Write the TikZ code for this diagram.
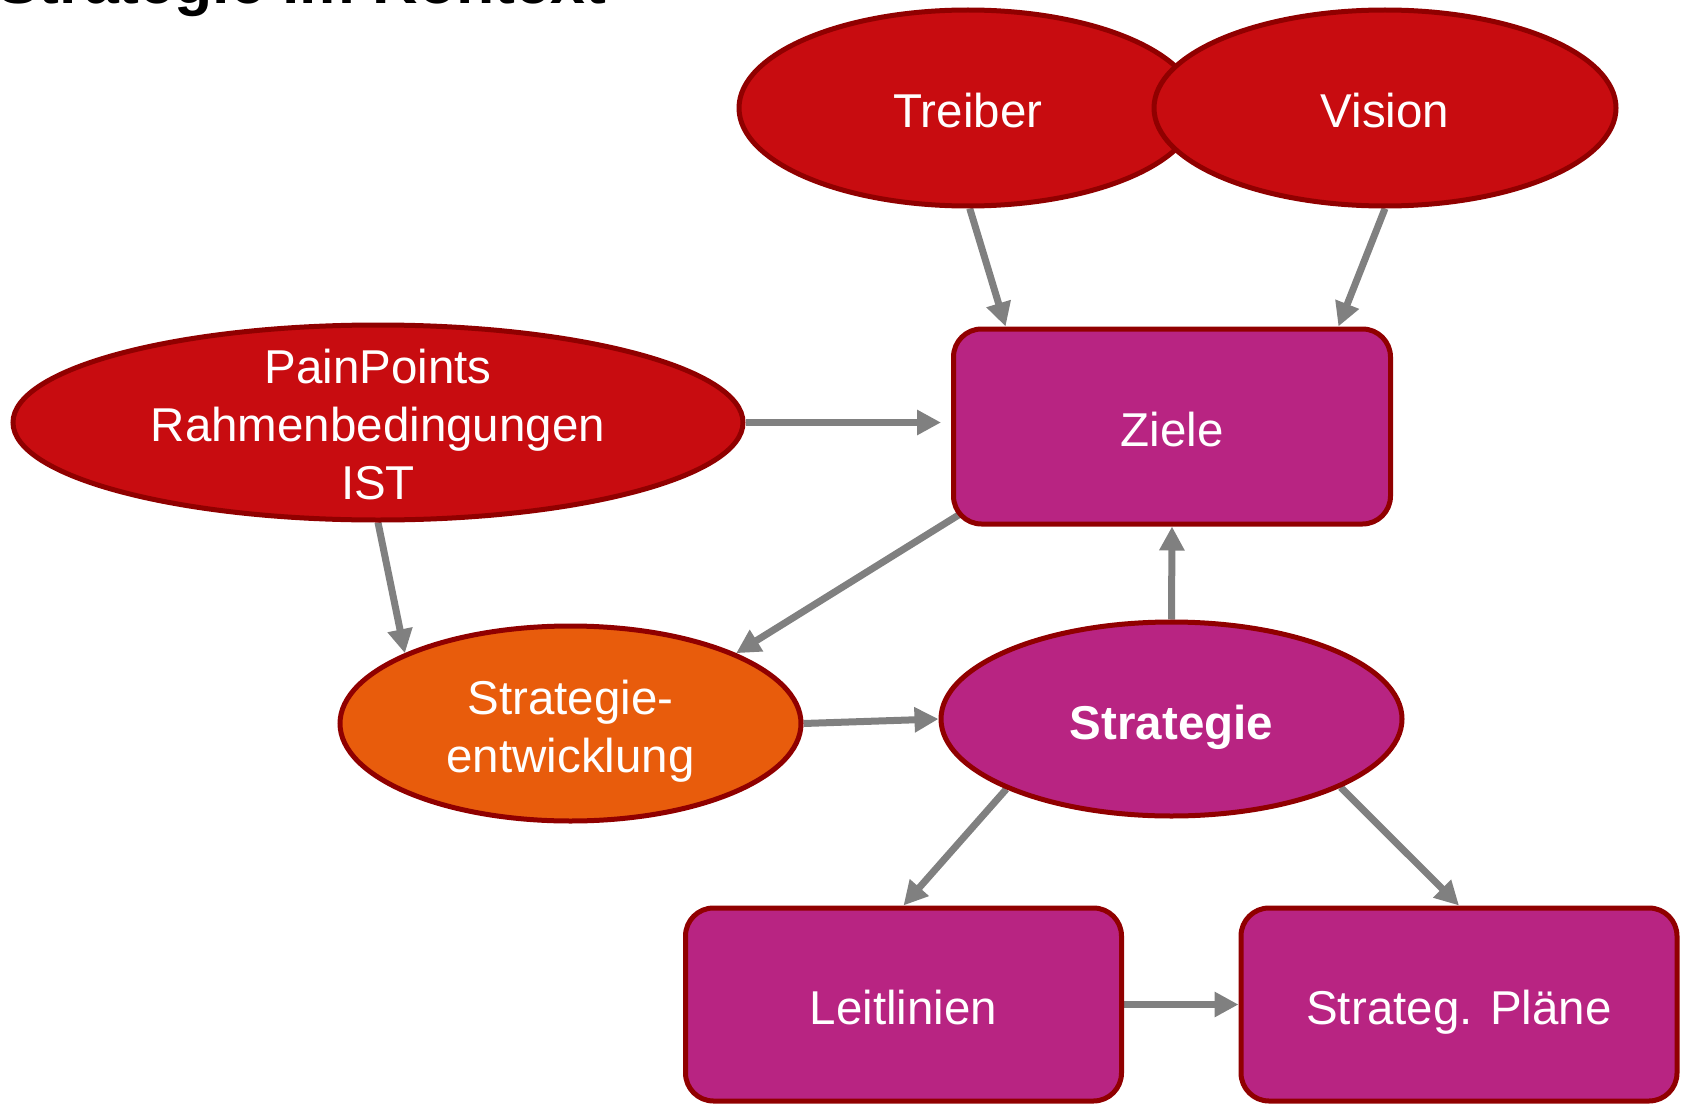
\documentclass[tikz,border=0pt]{standalone}
\usepackage{fontspec}
\setmainfont{Liberation Sans}
\usetikzlibrary{shapes.geometric,arrows.meta,calc,backgrounds}
\definecolor{tred}{RGB}{200,12,16}
\definecolor{tborder}{RGB}{144,0,0}
\definecolor{tmagenta}{RGB}{184,36,130}
\definecolor{torange}{RGB}{232,92,12}
\definecolor{tgray}{RGB}{128,128,128}
% invisible strut that lowers a multi-line label
\newcommand{\lowerby}[1]{\rule{0pt}{\dimexpr 35pt+2\dimexpr #1\relax\relax}}
\begin{document}
\begin{tikzpicture}[x=1pt,y=-1pt,
  base/.style={draw=tborder, line width=5pt, text=white, inner sep=0pt,
    align=center, font=\fontsize{47.5}{58}\selectfont},
  % one-line labels: capitals set slightly below the centre
  oneline/.style={text height=40pt, text depth=0pt},
  oval/.style={base, ellipse},
  box/.style={base, oneline, rectangle, rounded corners=28pt,
    minimum width=436pt, minimum height=193pt},
  link/.style={draw=tgray, line width=7pt,
    -{Triangle[length=24pt,width=24pt]}},
]
\useasboundingbox (0,0) rectangle (1681,1105);

% heading, cut by the top edge
\node[anchor=base west, inner sep=0pt, font=\bfseries\fontsize{62.6}{70}\selectfont]
  (title) at (-3,4) {Strategie im Kontext};

% inputs
\node[oval, oneline, fill=tred, minimum width=458pt, minimum height=196pt]
  (treiber) at (968,108) {Treiber};
\node[oval, oneline, fill=tred, minimum width=462pt, minimum height=196pt]
  (vision) at (1385,108) {Vision};
% negative inner sep keeps the three-line text from enlarging the ellipse
\node[oval, fill=tred, inner sep=-40pt, minimum width=730pt, minimum height=195pt]
  (pain) at (378,422.5) {\lowerby{2pt}PainPoints\\Rahmenbedingungen\\IST};

% goals and strategy
\node[box, fill=tmagenta, minimum width=437pt, minimum height=195pt]
  (ziele) at (1172,426.5) {Ziele};
\node[oval, fill=torange, minimum width=461pt, minimum height=195pt]
  (entw) at (570.5,723.5) {\lowerby{7pt}Strategie-\\entwicklung};
\node[oval, oneline, fill=tmagenta, minimum width=461pt, minimum height=194pt]
  (strat) at (1171.5,719) {\bfseries Strategie};

% outputs
\node[box, fill=tmagenta] (leit) at (903.5,1004.5) {Leitlinien};
\node[box, fill=tmagenta] (plaene) at (1459,1004.5) {Strateg. Pläne};

% connectors
\begin{scope}[on background layer]
\draw[link] (treiber.-89) -- (ziele.149);
\draw[link] (vision.south) -- (ziele.31);
\draw[link, shorten >=10pt] (pain.east) -- (pain.east -| ziele.west);
\draw[link] (pain.south) -- (entw.157);
\draw[link] ($(ziele.south west)+(10,-13)$) -- (entw.23);
\draw[link] (entw.east) -- (strat.west);
\draw[link] (strat.north) -- (ziele.south);
\draw[link] (strat.-157.5) -- (leit.north);
\draw[link] (strat.-22.5) -- (plaene.north);
\draw[link] (leit.east) -- (plaene.west);
\end{scope}
\end{tikzpicture}
\end{document}
